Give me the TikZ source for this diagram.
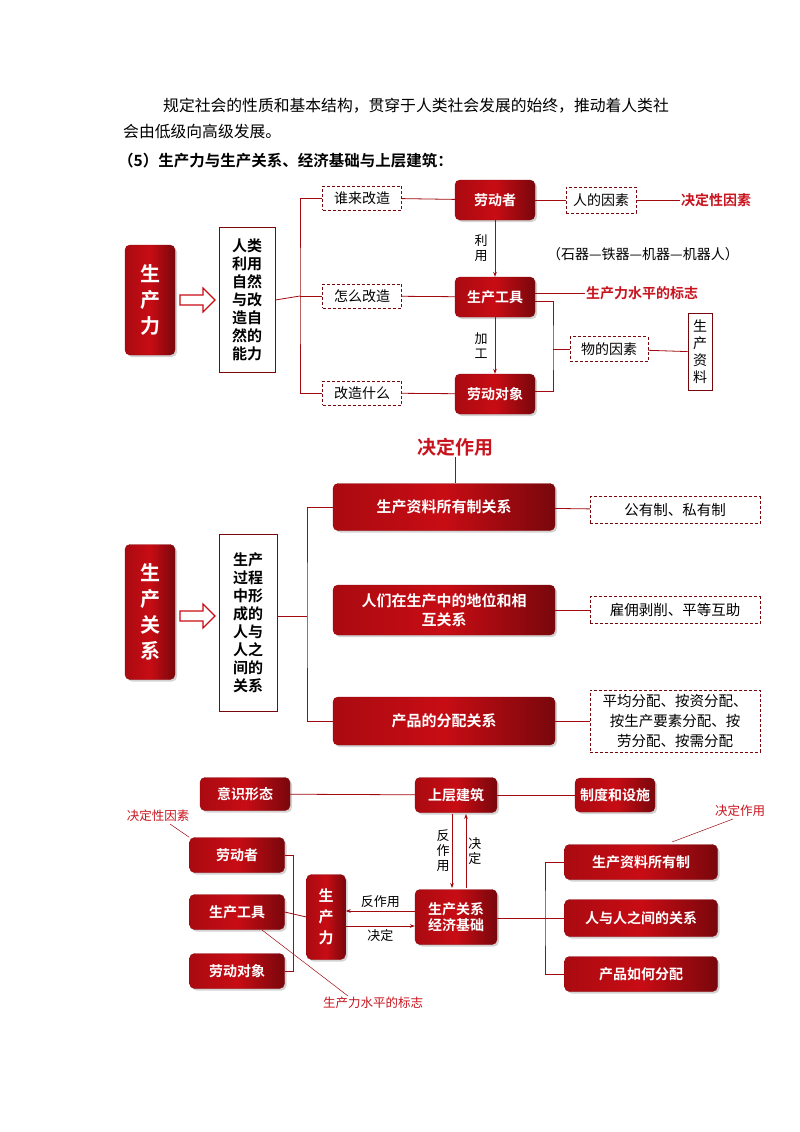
\documentclass[tikz,border=0pt]{standalone}
\usepackage{fontspec}
\setmainfont{Noto Sans CJK SC}
\newfontfamily\cjkb{Noto Sans CJK SC Bold}
\usetikzlibrary{shadows,arrows.meta}
\definecolor{rd}{RGB}{200,12,20}
\definecolor{rdt}{RGB}{200,20,30}
\tikzset{
 rnode/.style={draw=rd!70!black,left color=rd!85!black,right color=rd!60!black,middle color=rd,rounded corners=5pt,text=white,font=\cjkb\fontsize{14}{16}\selectfont,align=center,inner sep=0pt,drop shadow={opacity=0.35,shadow xshift=2pt,shadow yshift=-2pt}},
 dbox/.style={draw=rd!60!black,densely dashed,font=\fontsize{14}{17}\selectfont,align=center,inner sep=0pt},
 bbox/.style={draw=rd!60!black,line width=0.8pt,font=\cjkb\fontsize{15}{18}\selectfont,align=center,inner sep=0pt},
 ln/.style={draw=rd!80!black,line width=0.8pt},
 ar/.style={ln,-{Stealth[length=5pt]}},
 rtxt/.style={text=rdt,font=\cjkb\fontsize{14}{16}\selectfont,inner sep=1pt},
 lab/.style={font=\fontsize{13}{15}\selectfont,align=center,inner sep=1pt},
 hol/.style={draw=rd,line width=1.2pt,fill=white},
}
\begin{document}
\begin{tikzpicture}[x=1pt,y=-1pt]
\useasboundingbox (0,0) rectangle (800,1132);
% intro text
\node[anchor=west,inner sep=0,font=\fontsize{15.8}{18}\selectfont] (t1) at (163,106) {规定社会的性质和基本结构，贯穿于人类社会发展的始终，推动着人类社};
\node[anchor=west,inner sep=0,font=\fontsize{15.8}{18}\selectfont] (t2) at (123,131) {会由低级向高级发展。};
\node[anchor=west,inner sep=0,font=\cjkb\fontsize{15.5}{18}\selectfont] (t3) at (118,161) {（5）生产力与生产关系、经济基础与上层建筑：};

% ===== Section 1
\node[rnode,minimum width=50,minimum height=110,font=\cjkb\fontsize{20}{26}\selectfont] (sl) at (150,300) {生\\产\\力};
\path[hol] (180,295)--(203,295)--(203,288)--(215,300)--(203,312)--(203,305)--(180,305)--cycle;
\node[bbox,minimum width=56,minimum height=145] (nl) at (247,300) {人类\\利用\\自然\\与改\\造自\\然的\\能力};
\node[dbox,minimum width=79,minimum height=24] (d1) at (362,198) {谁来改造};
\node[dbox,minimum width=79,minimum height=24] (d2) at (362,296) {怎么改造};
\node[dbox,minimum width=79,minimum height=24] (d3) at (362,393) {改造什么};
\node[rnode,minimum width=80,minimum height=40] (w1) at (495,200) {劳动者};
\node[rnode,minimum width=80,minimum height=40] (w2) at (495,297) {生产工具};
\node[rnode,minimum width=80,minimum height=40] (w3) at (495,394) {劳动对象};
\coordinate (b1) at (300,296);
\draw[ln] (nl.east) -- (b1);
\draw[ln] (d1.west) -| (b1) |- (d3.west);
\draw[ln] (b1) -- (d2.west);
\draw[ln] (d1) -- (w1); \draw[ln] (d2) -- (w2); \draw[ln] (d3) -- (w3);
\draw[ar] (w1) -- node[lab,left=6pt] {利\\用} (w2);
\draw[ar] (w2) -- node[lab,left=6pt] {加\\工} (w3);
\node[dbox,minimum width=70,minimum height=26] (rf) at (601,200) {人的因素};
\node[rtxt,anchor=west] (jd) at (680,200) {决定性因素};
\draw[ln] (w1) -- (rf); \draw[ln] (rf) -- (jd);
\node[lab,anchor=west,font=\fontsize{14}{16}\selectfont] (sq) at (546,254) {（石器—铁器—机器—机器人）};
\node[rtxt,anchor=west] (bz) at (585,293) {生产力水平的标志};
\draw[ln] (w2.east |- bz) -- (bz);
\node[dbox,minimum width=78,minimum height=25] (wf) at (609,349) {物的因素};
\node[bbox,minimum width=24,minimum height=77,font=\fontsize{14}{17}\selectfont] (zl) at (700,352) {生\\产\\资\\料};
\coordinate (b2) at (553,349);
\draw[ln] (535,301) -| (b2) |- (535,391);
\draw[ln] (b2) -- (wf); \draw[ln] (wf) -- (zl);

% ===== Section 2
\node[rtxt,font=\cjkb\fontsize{19}{22}\selectfont] (jzy) at (455,447) {决定作用};
\node[rnode,minimum width=50,minimum height=135,font=\cjkb\fontsize{20}{26}\selectfont] (sg) at (150,612) {生\\产\\关\\系};
\path[hol] (180,611)--(203,611)--(203,604)--(215,616)--(203,628)--(203,621)--(180,621)--cycle;
\node[bbox,minimum width=58,minimum height=177] (gb) at (248,623) {生产\\过程\\中形\\成的\\人与\\人之\\间的\\关系};
\node[rnode,minimum width=222,minimum height=47,font=\cjkb\fontsize{15}{19}\selectfont] (g1) at (444,507) {生产资料所有制关系};
\node[rnode,minimum width=222,minimum height=50,font=\cjkb\fontsize{15}{19}\selectfont] (g2) at (444,610) {人们在生产中的地位和相\\互关系};
\node[rnode,minimum width=222,minimum height=48,font=\cjkb\fontsize{15}{19}\selectfont] (g3) at (444,721) {产品的分配关系};
\draw[ln] (jzy.south) -- (jzy.south |- g1.north);
\coordinate (b3) at (307,616);
\draw[ln] (gb.east |- b3) -- (b3);
\draw[ln] (g1.west) -| (b3) |- (g3.west);
\node[dbox,minimum width=170,minimum height=27,font=\fontsize{14.5}{17}\selectfont] (e1) at (675,510) {公有制、私有制};
\node[dbox,minimum width=170,minimum height=27,font=\fontsize{14.5}{17}\selectfont] (e2) at (675,610) {雇佣剥削、平等互助};
\node[dbox,minimum width=170,minimum height=62,font=\fontsize{14.5}{20}\selectfont] (e3) at (675,721) {平均分配、按资分配、\\按生产要素分配、按\\劳分配、按需分配};
\draw[ln] (g1) -- (e1); \draw[ln] (g2) -- (e2); \draw[ln] (g3) -- (e3);

% ===== Section 3
\node[rnode,minimum width=90,minimum height=33] (ys) at (245,794) {意识形态};
\node[rnode,minimum width=82,minimum height=35] (sc) at (456,795) {上层建筑};
\node[rnode,minimum width=80,minimum height=34] (zd) at (615,795) {制度和设施};
\draw[ln] (ys) -- (sc); \draw[ln] (sc) -- (zd);
\node[rnode,minimum width=95,minimum height=35] (l1) at (237,855) {劳动者};
\node[rnode,minimum width=95,minimum height=35] (l2) at (237,912) {生产工具};
\node[rnode,minimum width=95,minimum height=35] (l3) at (237,971) {劳动对象};
\node[rnode,minimum width=39,minimum height=85,font=\cjkb\fontsize{15}{21}\selectfont] (sp) at (326,917) {生\\产\\力};
\draw[ln] (l1.east) -- (293,855) |- (l3.east);
\draw[ln] (l2.east) -- (sp.west);
\node[rnode,minimum width=82,minimum height=55] (jj) at (456,917) {生产关系\\经济基础};
\draw[ar] (jj.west |- 0,911) -- node[lab,above=2pt] {反作用} (sp.east |- 0,911);
\draw[ar] (sp.east |- 0,926) -- node[lab,below=2pt] {决定} (jj.west |- 0,926);
\draw[ar] (452,814) -- node[lab,left=1pt] {反\\作\\用} (452,888);
\draw[ar] (466,888) -- node[lab,right=1pt] {决\\定} (466,814);
\node[rnode,minimum width=153,minimum height=35] (r1) at (641,862) {生产资料所有制};
\node[rnode,minimum width=153,minimum height=37] (r2) at (641,918) {人与人之间的关系};
\node[rnode,minimum width=153,minimum height=35] (r3) at (641,974) {产品如何分配};
\coordinate (b4) at (545,918);
\draw[ln] (jj.east |- b4) -- (b4);
\draw[ln] (r1.west) -| (b4) |- (r3.west);
\draw[ln] (b4) -- (r2.west);
\node[rtxt,font=\fontsize{12.5}{14}\selectfont] (jx) at (158,816) {决定性因素};
\draw[ln,line width=0.5pt] (170,824) -- (l1.north west);
\node[rtxt,font=\fontsize{12.5}{14}\selectfont] (jz2) at (740,811) {决定作用};
\draw[ln,line width=0.5pt] (733,819) -- (672,842);
\node[rtxt,font=\fontsize{12.5}{14}\selectfont] (bz2) at (373,1003) {生产力水平的标志};
\draw[ln,line width=0.5pt] (262,930) -- (348,996);
\end{tikzpicture}
\end{document}
